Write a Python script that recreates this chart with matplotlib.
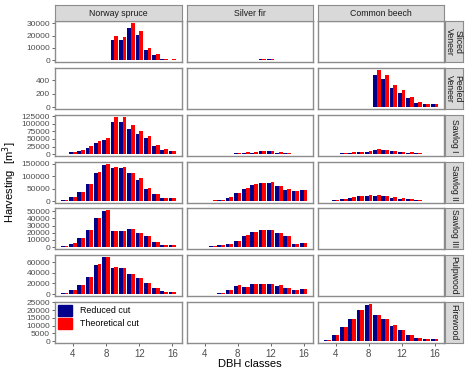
import numpy as np
import matplotlib
matplotlib.use("Agg")
import matplotlib.pyplot as plt

plt.rcParams["font.family"] = ["Liberation Sans", "DejaVu Sans"]

# DBH classes on the x axis
classes = np.arange(3, 17)

species = ["Norway spruce", "Silver fir", "Common beech"]
assortments = ["Sliced\nVeneer", "Peeled\nVeneer", "Sawlog I", "Sawlog II",
               "Sawlog III", "Pulpwood", "Firewood"]
row_ticks = [[0, 10000, 20000, 30000],
             [0, 200, 400],
             [0, 25000, 50000, 75000, 100000, 125000],
             [0, 50000, 100000, 150000],
             [0, 10000, 20000, 30000, 40000, 50000],
             [0, 20000, 40000, 60000],
             [0, 5000, 10000, 15000, 20000, 25000]]

Z = [0] * 14

# Norway spruce, one list per assortment (classes 3..16)
spruce_reduced = [
    [0, 0, 0, 0, 0, 0, 16700, 16700, 26200, 20800, 8600, 4600, 900, 500],
    Z,
    [1500, 6000, 12000, 21500, 36500, 46000, 104500, 104500, 82000, 66000, 52000, 27000, 14000, 10500],
    [4000, 16000, 37000, 69000, 115000, 146000, 134000, 134000, 112000, 87000, 50000, 27000, 14000, 11000],
    [1400, 5000, 12800, 23900, 40000, 50500, 22000, 22000, 25200, 19300, 15100, 7300, 2750, 2300],
    [1900, 6900, 16900, 32500, 55000, 69400, 50000, 50000, 38750, 30000, 20600, 11250, 5000, 3750],
    Z,
]
spruce_theoretical = [
    [0, 0, 0, 0, 0, 0, 19500, 19200, 30500, 23800, 10300, 5400, 1000, 600],
    Z,
    [1800, 6500, 13000, 25500, 42000, 54000, 123000, 122000, 96000, 75500, 60000, 31500, 15500, 11500],
    [4500, 16500, 38500, 70500, 119000, 150000, 139000, 137000, 114500, 92000, 53000, 28000, 14500, 11000],
    [1500, 5200, 13000, 24300, 40500, 52000, 22300, 22200, 25700, 19600, 15300, 7500, 2800, 2300],
    [2000, 7200, 17200, 32800, 55800, 70000, 50500, 49400, 38500, 29600, 20300, 11000, 4900, 3700],
    Z,
]

# Silver fir
fir_reduced = [
    [0, 0, 0, 0, 0, 0, 0, 0, 1000, 1100, 0, 0, 0, 0],
    Z,
    [0, 0, 0, 500, 600, 3000, 5000, 5400, 9000, 9200, 5400, 3000, 0, 0],
    [500, 1000, 2500, 5500, 14500, 32000, 49000, 65000, 71000, 74000, 60000, 46000, 40000, 44000],
    [0, 400, 900, 2300, 4600, 8300, 16000, 21000, 24300, 24300, 19700, 15000, 5000, 6000],
    [300, 400, 600, 2500, 8000, 16000, 14000, 19000, 19000, 19000, 16000, 11000, 8000, 10000],
    Z,
]
fir_theoretical = [
    [0, 0, 0, 0, 0, 0, 0, 0, 1100, 1000, 0, 0, 0, 0],
    Z,
    [0, 0, 0, 500, 700, 3300, 5600, 6000, 9700, 9700, 5600, 3200, 0, 0],
    [500, 1000, 2700, 6000, 15500, 33500, 51000, 67500, 74000, 76000, 62500, 47500, 42000, 46000],
    [0, 450, 1000, 2500, 4800, 8600, 16500, 21600, 24500, 24500, 20200, 15300, 5000, 6200],
    [300, 400, 700, 2700, 8300, 16500, 14200, 19400, 19400, 19200, 16300, 11200, 8200, 10300],
    Z,
]

# Common beech
beech_reduced = [
    [0, 0, 0, 0, 0, 0, 100, 100, 0, 0, 0, 0, 0, 0],
    [0, 0, 0, 0, 0, 0, 484, 420, 286, 212, 133, 64, 40, 40],
    [500, 1000, 4000, 5000, 7000, 8500, 15000, 12500, 10500, 7200, 5000, 3000, 1000, 500],
    [1000, 2600, 9000, 14000, 21000, 22500, 22500, 20000, 14600, 10600, 8000, 4000, 1500, 1000],
    Z,
    Z,
    [840, 4000, 8800, 14000, 19900, 23500, 16600, 14000, 9900, 7100, 4000, 1900, 1260, 1260],
]
beech_theoretical = [
    [0, 0, 0, 0, 0, 0, 120, 110, 0, 0, 0, 0, 0, 0],
    [0, 0, 0, 0, 0, 0, 558, 484, 336, 252, 153, 74, 40, 40],
    [500, 1100, 4500, 5600, 7800, 9000, 17000, 13500, 11000, 7800, 5500, 3300, 1100, 500],
    [1000, 2700, 9500, 15000, 22000, 23000, 23000, 20500, 15000, 11000, 8200, 4200, 1500, 1000],
    Z,
    Z,
    [900, 4100, 9000, 14500, 20300, 24000, 16800, 14400, 10100, 7300, 4100, 2000, 1260, 1260],
]

reduced = [spruce_reduced, fir_reduced, beech_reduced]
theoretical = [spruce_theoretical, fir_theoretical, beech_theoretical]

BLUE = "#00008B"
RED = "#FF0000"
GREY_TXT = "#4D4D4D"
BORDER = "#8C8C8C"

W, H = 474, 370
fig = plt.figure(figsize=(W / 100, H / 100), dpi=100)


def box(x0, y0, x1, y1):
    return [x0 / W, 1 - y1 / H, (x1 - x0) / W, (y1 - y0) / H]


col_x = [(55, 182), (187, 313), (318, 444)]
row_top = [21, 68, 115, 162, 208, 255, 302]
row_h = 41

xlo, xhi = 2.55 - 0.695, 16.45 + 0.695

for r in range(7):
    ymax = max(max(reduced[c][r]) for c in range(3))
    ymax = max(ymax, max(max(theoretical[c][r]) for c in range(3)))
    for c in range(3):
        x0, x1 = col_x[c]
        y0 = row_top[r]
        ax = fig.add_axes(box(x0, y0, x1, y0 + row_h))
        ax.bar(classes - 0.225, reduced[c][r], width=0.45, color=BLUE, linewidth=0)
        ax.bar(classes + 0.225, theoretical[c][r], width=0.45, color=RED, linewidth=0)
        ax.set_xlim(xlo, xhi)
        ax.set_ylim(-0.05 * ymax, 1.05 * ymax)
        ax.set_xticks([4, 8, 12, 16])
        ax.set_yticks(row_ticks[r])
        for s in ax.spines.values():
            s.set_color(BORDER)
            s.set_linewidth(1.0)
        ax.tick_params(length=2.5, width=0.6, color=GREY_TXT, labelcolor=GREY_TXT,
                       labelsize=6, pad=1)
        ax.tick_params(axis="x", labelsize=7, pad=1.5)
        if c != 0:
            ax.tick_params(axis="y", left=False, labelleft=False)
        if r != 6:
            ax.tick_params(axis="x", bottom=False, labelbottom=False)

        if r == 0:
            sa = fig.add_axes(box(x0, 5, x1, 21))
            sa.set_facecolor("#D9D9D9")
            sa.set_xticks([])
            sa.set_yticks([])
            for s in sa.spines.values():
                s.set_color(BORDER)
            sa.text(0.5, 0.48, species[c], ha="center", va="center", fontsize=6.3,
                    color="#1A1A1A", transform=sa.transAxes)
        if c == 2:
            sa = fig.add_axes(box(445, y0, 463, y0 + row_h))
            sa.set_facecolor("#D9D9D9")
            sa.set_xticks([])
            sa.set_yticks([])
            for s in sa.spines.values():
                s.set_color(BORDER)
            sa.text(0.5, 0.5, assortments[r], ha="center", va="center", fontsize=6.3,
                    rotation=-90, color="#1A1A1A", linespacing=0.9,
                    transform=sa.transAxes)

        if r == 6 and c == 0:
            ax.legend(handles=[plt.Rectangle((0, 0), 1, 1, color=BLUE),
                               plt.Rectangle((0, 0), 1, 1, color=RED)],
                      labels=["Reduced cut", "Theoretical cut"],
                      loc="upper left", frameon=False, fontsize=6.4,
                      handlelength=1.6, handleheight=1.6, handletextpad=0.9,
                      labelspacing=0.2, borderaxespad=0.1, borderpad=0.2)

fig.text(250 / W, 1 - 364 / H, "DBH classes", ha="center", va="center", fontsize=8)
fig.text(10 / W, 1 - 182 / H, "Harvesting  [m$^3$]", ha="center", va="center",
         rotation=90, fontsize=8)

fig.savefig("out.png", dpi=100)
